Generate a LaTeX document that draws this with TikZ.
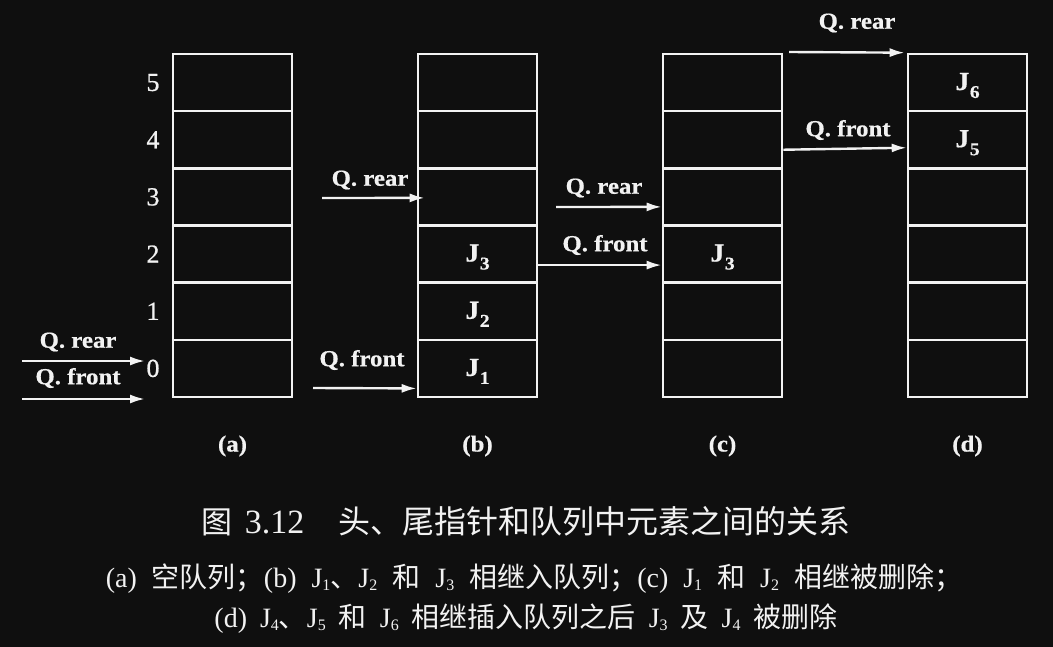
\documentclass[tikz,border=0pt]{standalone}
\usepackage{fontspec}
\setmainfont{Liberation Serif}
\newfontfamily\cjk{Noto Sans CJK SC}
\newfontfamily\labf[FakeStretch=1.08, BoldFeatures={FakeBold=0.6}]{Liberation Serif}
\newfontfamily\digf[FakeBold=0.8]{Liberation Serif}
\usetikzlibrary{arrows.meta}
\definecolor{bg}{HTML}{0F0F0F}
\definecolor{fg}{HTML}{F2F2F2}
\newcommand\Jl[1]{J\kern0.5pt\raisebox{-8pt}{\fontsize{18}{18}\selectfont #1}}
\newcommand\Jc[1]{J\raisebox{-3pt}{\fontsize{16}{16}\selectfont #1}}
\newcommand\lt[1]{{\rmfamily #1}}
\tikzset{
  cell/.style={draw=fg, line width=2.6pt, minimum width=119pt, minimum height=57.17pt, inner sep=0pt},
  jlab/.style={text=fg, inner sep=0pt, font=\labf\bfseries\fontsize{26}{26}\selectfont},
  ptr/.style={draw=fg, line width=2.4pt, -{Latex[length=15pt,width=9pt]}},
  plab/.style={text=fg, inner sep=0pt, font=\labf\bfseries\fontsize{23}{23}\selectfont},
  idx/.style={text=fg, inner sep=0pt, font=\digf\fontsize{26}{26}\selectfont},
  sublab/.style={text=fg, inner sep=0pt, font=\labf\bfseries\fontsize{23}{23}\selectfont},
  captxt/.style={text=fg, inner sep=0pt, anchor=center},
}
\begin{document}
\begin{tikzpicture}[x=1pt,y=-1pt]
\fill[bg] (0,0) rectangle (1053,647);
\useasboundingbox (0,0) rectangle (1053,647);
% queue cells
\foreach \col/\x in {a/232.5,b/477.5,c/722.5,d/967.5}{
  \foreach \i in {0,...,5}{
    \node[cell] (\col\i) at (\x,{397-(\i+0.5)*57.17}) {};
  }
}
% index numbers
\foreach \i in {0,...,5}{
  \node[idx] (n\i) at (153,{397-(\i+0.5)*57.17}) {\i};
}
% element labels
\node[jlab] (jb0) at ([yshift=-3pt]b0) {\Jl{1}};
\node[jlab] (jb1) at ([yshift=-3pt]b1) {\Jl{2}};
\node[jlab] (jb2) at ([yshift=-3pt]b2) {\Jl{3}};
\node[jlab] (jc2) at ([yshift=-3pt]c2) {\Jl{3}};
\node[jlab] (jd5) at ([yshift=-3pt]d5) {\Jl{6}};
\node[jlab] (jd4) at ([yshift=-3pt]d4) {\Jl{5}};
% (a) pointers
\coordinate (ars) at (22,361);
\coordinate (are) at (145,361);
\coordinate (afs) at (22,399);
\coordinate (afe) at (145,399);
\draw[ptr] (ars) -- (are);
\draw[ptr] (afs) -- (afe);
\node[plab] (arl) at (78,342) {Q. rear};
\node[plab] (afl) at (78,378) {Q. front};
% (b) pointers
\coordinate (brs) at (322,198);
\coordinate (bfs) at (313,388);
\draw[ptr] (brs) -- ([xshift=8pt,yshift=-1pt]b3.west);
\draw[ptr] (bfs) -- ([yshift=-20pt]b0.west);
\node[plab] (brl) at (370,180) {Q. rear};
\node[plab] (bfl) at (362,360) {Q. front};
% (c) pointers
\draw[ptr] ([yshift=-11pt]b2.east) -- ([yshift=-11pt]c2.west);
\coordinate (crs) at (556,207);
\draw[ptr] (crs) -- ([yshift=-10pt]c3.west);
\node[plab] (crl) at (604,188) {Q. rear};
\node[plab] (cfl) at (605,245) {Q. front};
% (d) pointers
\coordinate (drs) at (789,52);
\draw[ptr] (drs) -- ([xshift=-2pt]d5.north west);
\draw[ptr] ([yshift=-10pt]c4.east) -- ([yshift=-8pt]d4.west);
\node[plab] (drl) at (857,23) {Q. rear};
\node[plab] (dfl) at (848,130) {Q. front};
% sub labels
\node[sublab] (la) at (232.5,446) {(a)};
\node[sublab] (lb) at (477.5,446) {(b)};
\node[sublab] (lc) at (722.5,446) {(c)};
\node[sublab] (ld) at (967.5,446) {(d)};
% caption
\node[captxt] (t1) at (526,521) {{\cjk\fontsize{31}{31}\selectfont 图}\hspace{12pt}{\fontsize{34}{34}\selectfont 3.12}\hspace{34pt}{\cjk\fontsize{32}{32}\selectfont 头、尾指针和队列中元素之间的关系}};
\node[captxt] (t2) at (534,579) {\cjk\fontsize{28}{28}\selectfont \lt{(a)}\hspace{15pt}空队列；\lt{(b)}\hspace{15pt}\lt{\Jc1}、\lt{\Jc2}\hspace{15pt}和\hspace{15pt}\lt{\Jc3}\hspace{15pt}相继入队列；\lt{(c)}\hspace{15pt}\lt{\Jc1}\hspace{15pt}和\hspace{15pt}\lt{\Jc2}\hspace{15pt}相继被删除；};
\node[captxt] (t3) at (526,619) {\cjk\fontsize{28}{28}\selectfont \lt{(d)}\hspace{13pt}\lt{\Jc4}、\lt{\Jc5}\hspace{13pt}和\hspace{13pt}\lt{\Jc6}\hspace{13pt}相继插入队列之后\hspace{13pt}\lt{\Jc3}\hspace{13pt}及\hspace{13pt}\lt{\Jc4}\hspace{13pt}被删除};
\end{tikzpicture}
\end{document}
